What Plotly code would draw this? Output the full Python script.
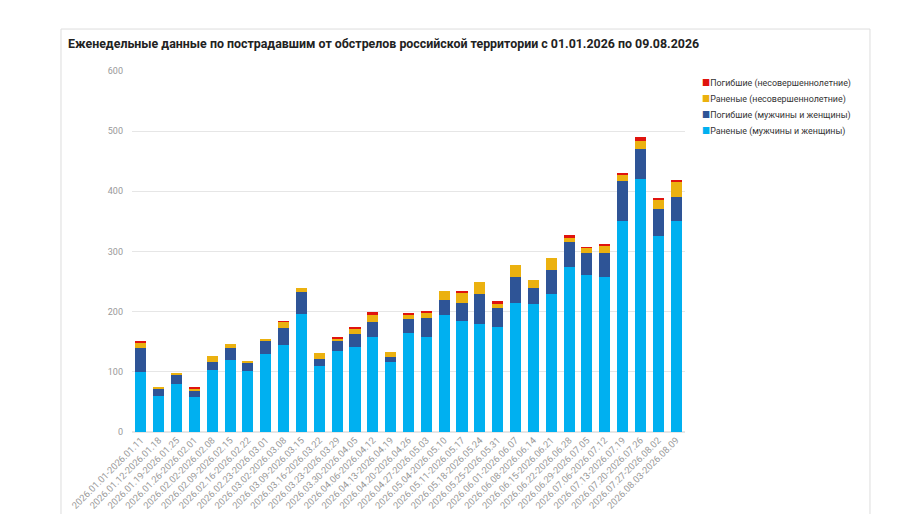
import plotly.graph_objects as go

weeks = [
    "2026.01.01-2026.01.11", "2026.01.12-2026.01.18", "2026.01.19-2026.01.25",
    "2026.01.26-2026.02.01", "2026.02.02-2026.02.08", "2026.02.09-2026.02.15",
    "2026.02.16-2026.02.22", "2026.02.23-2026.03.01", "2026.03.02-2026.03.08",
    "2026.03.09-2026.03.15", "2026.03.16-2026.03.22", "2026.03.23-2026.03.29",
    "2026.03.30-2026.04.05", "2026.04.06-2026.04.12", "2026.04.13-2026.04.19",
    "2026.04.20-2026.04.26", "2026.04.27-2026.05.03", "2026.05.04-2026.05.10",
    "2026.05.11-2026.05.17", "2026.05.18-2026.05.24", "2026.05.25-2026.05.31",
    "2026.06.01-2026.06.07", "2026.06.08-2026.06.14", "2026.06.15-2026.06.21",
    "2026.06.22-2026.06.28", "2026.06.29-2026.07.05", "2026.07.06-2026.07.12",
    "2026.07.13-2026.07.19", "2026.07.20-2026.07.26", "2026.07.27-2026.08.02",
    "2026.08.03-2026.08.09",
]

# раненые взрослые (нижний сегмент)
wounded_adults = [99, 60, 79, 58, 103, 120, 102, 130, 144, 196, 109, 134, 141, 158, 116, 165,
                  158, 194, 185, 179, 174, 215, 212, 229, 275, 261, 258, 350, 420, 325, 351]
# погибшие взрослые
killed_adults = [41, 12, 15, 10, 13, 20, 14, 22, 29, 37, 13, 18, 22, 25, 8, 22,
                 31, 26, 29, 50, 32, 43, 28, 40, 40, 36, 39, 67, 50, 45, 39]
# раненые дети
wounded_minors = [8, 3, 4, 4, 11, 7, 1, 1, 10, 6, 10, 3, 9, 12, 9, 8,
                  9, 15, 18, 21, 8, 19, 13, 21, 9, 9, 13, 11, 14, 15, 25]
# погибшие дети
killed_minors = [3, 0, 0, 2, 0, 0, 0, 0, 1, 0, 0, 2, 3, 4, 0, 2,
                 2, 0, 3, 0, 3, 0, 0, 0, 3, 1, 1, 3, 7, 4, 4]

series = [
    ("Раненые (мужчины и женщины)", wounded_adults, "#00b0f0"),
    ("Погибшие (мужчины и женщины)", killed_adults, "#2e5496"),
    ("Раненые (несовершеннолетние)", wounded_minors, "#ebb10f"),
    ("Погибшие (несовершеннолетние)", killed_minors, "#e0140e"),
]

fig = go.Figure()
for name, vals, col in series:
    fig.add_trace(go.Bar(x=weeks, y=vals, name=name, marker_color=col,
                         marker_line_width=0, showlegend=False))

# легенда вручную (компактнее стандартной), сверху вниз в обратном порядке
for i, (name, vals, col) in enumerate(reversed(series)):
    fig.add_annotation(xref="paper", yref="paper", x=1.028, y=0.964 - i * 0.0443,
                       xanchor="left", yanchor="middle", showarrow=False,
                       text=f"<span style='color:{col}'>■</span>{name}",
                       font=dict(size=8.9, color="#333333"))

# рамка карточки
fig.add_shape(type="rect", xref="paper", yref="paper",
              x0=-0.1284, x1=1.3345, y0=-0.3, y1=1.1163,
              line=dict(color="#dddddd", width=1), fillcolor="rgba(0,0,0,0)", layer="below")

fig.update_layout(
    width=912, height=514,
    barmode="stack", bargap=0.38,
    paper_bgcolor="white", plot_bgcolor="white",
    margin=dict(l=124, r=235, t=63, b=90),
    font=dict(family="Roboto, Inter, sans-serif", color="#333333"),
    title=dict(text="<b>Еженедельные данные по пострадавшим от обстрелов российской территории с 01.01.2026 по 09.08.2026</b>",
               x=60 / 912, xanchor="left", y=1 - 36 / 514, yanchor="middle",
               font=dict(size=12.4, color="#222222")),
)
fig.update_yaxes(range=[0, 600], dtick=100, showgrid=True, gridcolor="#e6e6e6", gridwidth=1,
                 zeroline=True, zerolinecolor="#e6e6e6", ticks="", ticklen=0,
                 tickfont=dict(size=9, color="#999999"), ticklabelstandoff=8)
fig.update_xaxes(tickangle=-45, tickfont=dict(size=9.4, color="#999999"),
                 showline=False, ticks="", automargin=False)

fig.write_html("out.html")
